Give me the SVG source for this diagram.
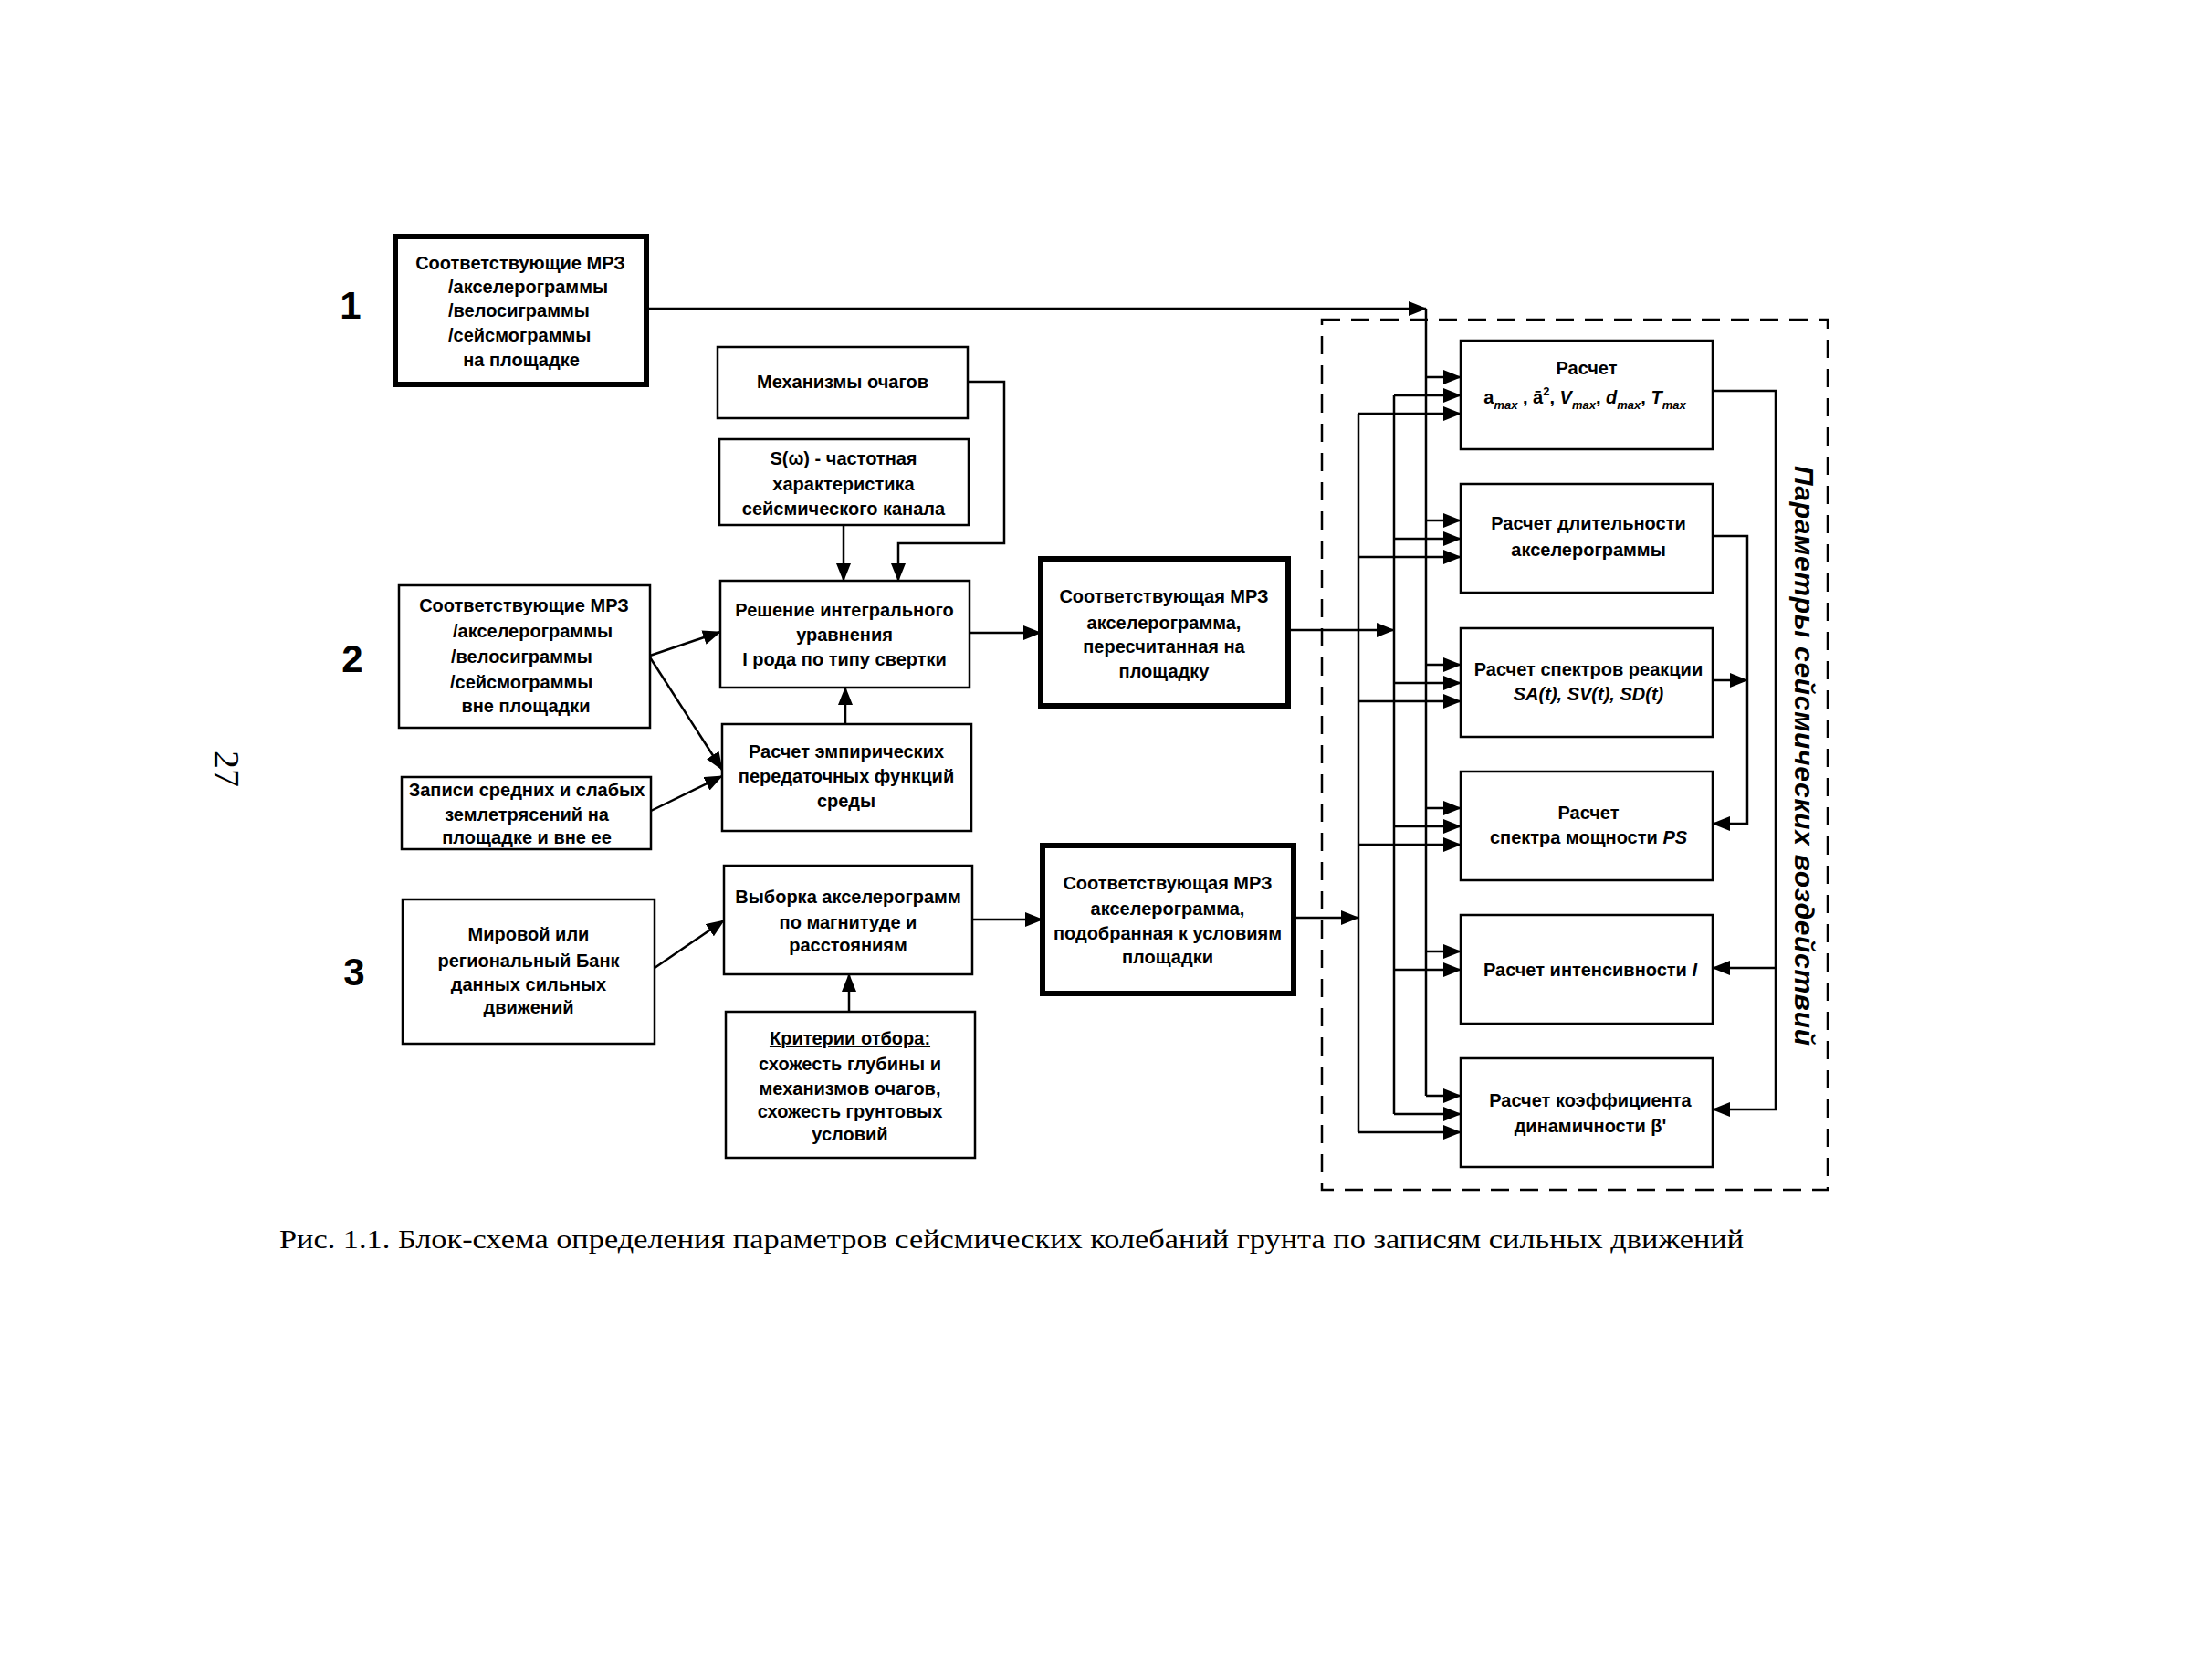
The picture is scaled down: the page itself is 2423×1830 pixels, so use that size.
<svg xmlns="http://www.w3.org/2000/svg" width="2423" height="1830" viewBox="0 0 2423 1830">
<style>
.b{fill:#fff;stroke:#000;stroke-width:2.5}
.bt{fill:#fff;stroke:#000;stroke-width:6}
.t{font-family:"Liberation Sans",Arial,sans-serif;font-weight:bold;font-size:20px;fill:#000}
.c{text-anchor:middle}
.it{font-style:italic}
.num{font-family:"Liberation Sans",Arial,sans-serif;font-weight:bold;font-size:42px;fill:#000;text-anchor:middle}
.ln{fill:none;stroke:#000;stroke-width:2.5}
.arr{marker-end:url(#ah)}
.sub{font-size:13px}
</style>
<defs>
<marker id="ah" markerUnits="userSpaceOnUse" markerWidth="20" markerHeight="16" refX="19" refY="8" orient="auto">
<path d="M0,0 L20,8 L0,16 Z" fill="#000"/>
</marker>
</defs>
<rect width="2423" height="1830" fill="#fff"/>

<text class="num" x="384" y="349">1</text>
<text class="num" x="386" y="736">2</text>
<text class="num" x="388" y="1079">3</text>

<g id="container">
<rect x="1448" y="350" width="554" height="953" fill="none" stroke="#000" stroke-width="2.5" stroke-dasharray="20 12"/>
<text class="t it" transform="translate(1966,510) rotate(90)" textLength="635" lengthAdjust="spacing" style="font-size:30px">Параметры сейсмических воздействий</text>
</g>

<g id="connectors">
<polyline class="ln arr" points="708,338 1562,338"/>
<polyline class="ln" points="1562,338 1562,1200"/>
<polyline class="ln" points="1527,433 1527,1220"/>
<polyline class="ln" points="1488,453 1488,1240"/>
<line class="ln arr" x1="1562" y1="413" x2="1600" y2="413"/>
<line class="ln arr" x1="1527" y1="433" x2="1600" y2="433"/>
<line class="ln arr" x1="1488" y1="453" x2="1600" y2="453"/>
<line class="ln arr" x1="1562" y1="570" x2="1600" y2="570"/>
<line class="ln arr" x1="1527" y1="590" x2="1600" y2="590"/>
<line class="ln arr" x1="1488" y1="610" x2="1600" y2="610"/>
<line class="ln arr" x1="1562" y1="728" x2="1600" y2="728"/>
<line class="ln arr" x1="1527" y1="748" x2="1600" y2="748"/>
<line class="ln arr" x1="1488" y1="768" x2="1600" y2="768"/>
<line class="ln arr" x1="1562" y1="885" x2="1600" y2="885"/>
<line class="ln arr" x1="1527" y1="905" x2="1600" y2="905"/>
<line class="ln arr" x1="1488" y1="925" x2="1600" y2="925"/>
<line class="ln arr" x1="1562" y1="1042" x2="1600" y2="1042"/>
<line class="ln arr" x1="1527" y1="1062" x2="1600" y2="1062"/>
<line class="ln arr" x1="1562" y1="1200" x2="1600" y2="1200"/>
<line class="ln arr" x1="1527" y1="1220" x2="1600" y2="1220"/>
<line class="ln arr" x1="1488" y1="1240" x2="1600" y2="1240"/>
<line class="ln arr" x1="1411" y1="690" x2="1527" y2="690"/>
<line class="ln arr" x1="1417" y1="1005" x2="1488" y2="1005"/>
<polyline class="ln arr" points="1876,428 1945,428 1945,1215 1876,1215"/>
<line class="ln arr" x1="1945" y1="1060" x2="1876" y2="1060"/>
<polyline class="ln arr" points="1876,587 1914,587 1914,902 1876,902"/>
<line class="ln arr" x1="1876" y1="745" x2="1914" y2="745"/>
<polyline class="ln arr" points="1060,418 1100,418 1100,595 984,595 984,636"/>
<line class="ln arr" x1="924" y1="575" x2="924" y2="636"/>
<line class="ln arr" x1="712" y1="718" x2="789" y2="692"/>
<line class="ln arr" x1="712" y1="720" x2="791" y2="843"/>
<line class="ln arr" x1="713" y1="888" x2="791" y2="850"/>
<line class="ln arr" x1="926" y1="793" x2="926" y2="753"/>
<line class="ln arr" x1="1062" y1="693" x2="1140" y2="693"/>
<line class="ln arr" x1="717" y1="1060" x2="793" y2="1008"/>
<line class="ln arr" x1="1065" y1="1007" x2="1142" y2="1007"/>
<line class="ln arr" x1="930" y1="1108" x2="930" y2="1067"/>
</g>

<g id="n-src1">
<rect class="bt" x="433" y="259" width="275" height="162"/>
<text class="t c" x="570" y="295">Соответствующие МРЗ</text>
<text class="t" x="491" y="321">/акселерограммы</text>
<text class="t" x="491" y="347">/велосиграммы</text>
<text class="t" x="491" y="374">/сейсмограммы</text>
<text class="t c" x="571" y="401">на площадке</text>
</g>

<g id="n-mech">
<rect class="b" x="786" y="380" width="274" height="78"/>
<text class="t c" x="923" y="425">Механизмы очагов</text>
</g>

<g id="n-s">
<rect class="b" x="788" y="481" width="273" height="94"/>
<text class="t c" x="924" y="509">S(ω) - частотная</text>
<text class="t c" x="924" y="537">характеристика</text>
<text class="t c" x="924" y="564">сейсмического канала</text>
</g>

<g id="n-src2">
<rect class="b" x="437" y="641" width="275" height="156"/>
<text class="t c" x="574" y="670">Соответствующие МРЗ</text>
<text class="t" x="496" y="698">/акселерограммы</text>
<text class="t" x="494" y="726">/велосиграммы</text>
<text class="t" x="493" y="754">/сейсмограммы</text>
<text class="t c" x="576" y="780">вне площадки</text>
</g>

<g id="n-solve">
<rect class="b" x="789" y="636" width="273" height="117"/>
<text class="t c" x="925" y="675">Решение интегрального</text>
<text class="t c" x="925" y="702">уравнения</text>
<text class="t c" x="925" y="729">I рода по типу свертки</text>
</g>

<g id="n-emp">
<rect class="b" x="791" y="793" width="273" height="117"/>
<text class="t c" x="927" y="830">Расчет эмпирических</text>
<text class="t c" x="927" y="857">передаточных функций</text>
<text class="t c" x="927" y="884">среды</text>
</g>

<g id="n-rec">
<rect class="b" x="440" y="851" width="273" height="79"/>
<text class="t c" x="577" y="872">Записи средних и слабых</text>
<text class="t c" x="577" y="899">землетрясений на</text>
<text class="t c" x="577" y="924">площадке и вне ее</text>
</g>

<g id="n-res2">
<rect class="bt" x="1140" y="612" width="271" height="161"/>
<text class="t c" x="1275" y="660">Соответствующая МРЗ</text>
<text class="t c" x="1275" y="689">акселерограмма,</text>
<text class="t c" x="1275" y="715">пересчитанная на</text>
<text class="t c" x="1275" y="742">площадку</text>
</g>

<g id="n-bank">
<rect class="b" x="441" y="985" width="276" height="158"/>
<text class="t c" x="579" y="1030">Мировой или</text>
<text class="t c" x="579" y="1059">региональный Банк</text>
<text class="t c" x="579" y="1085">данных сильных</text>
<text class="t c" x="579" y="1110">движений</text>
</g>

<g id="n-sel">
<rect class="b" x="793" y="948" width="272" height="119"/>
<text class="t c" x="929" y="989">Выборка акселерограмм</text>
<text class="t c" x="929" y="1017">по магнитуде и</text>
<text class="t c" x="929" y="1042">расстояниям</text>
</g>

<g id="n-crit">
<rect class="b" x="795" y="1108" width="273" height="160"/>
<text class="t c" x="931" y="1144" text-decoration="underline">Критерии отбора:</text>
<text class="t c" x="931" y="1172">схожесть глубины  и</text>
<text class="t c" x="931" y="1199">механизмов очагов,</text>
<text class="t c" x="931" y="1224">схожесть грунтовых</text>
<text class="t c" x="931" y="1249">условий</text>
</g>

<g id="n-res3">
<rect class="bt" x="1142" y="926" width="275" height="162"/>
<text class="t c" x="1279" y="974">Соответствующая МРЗ</text>
<text class="t c" x="1279" y="1002">акселерограмма,</text>
<text class="t c" x="1279" y="1029">подобранная к условиям</text>
<text class="t c" x="1279" y="1055">площадки</text>
</g>

<g id="n-r1">
<rect class="b" x="1600" y="373" width="276" height="119"/>
<text class="t c" x="1738" y="410">Расчет</text>
<text class="t c" x="1736" y="442">a<tspan class="sub it" dy="6">max</tspan><tspan dy="-6"> , ā</tspan><tspan class="sub" dy="-9">2</tspan><tspan dy="9">, </tspan><tspan class="it">V</tspan><tspan class="sub it" dy="6">max</tspan><tspan dy="-6">, </tspan><tspan class="it">d</tspan><tspan class="sub it" dy="6">max</tspan><tspan dy="-6">, </tspan><tspan class="it">T</tspan><tspan class="sub it" dy="6">max</tspan></text>
</g>

<g id="n-r2">
<rect class="b" x="1600" y="530" width="276" height="119"/>
<text class="t c" x="1740" y="580">Расчет длительности</text>
<text class="t c" x="1740" y="609">акселерограммы</text>
</g>

<g id="n-r3">
<rect class="b" x="1600" y="688" width="276" height="119"/>
<text class="t c" x="1740" y="740">Расчет спектров реакции</text>
<text class="t c it" x="1740" y="767">SA(t), SV(t), SD(t)</text>
</g>

<g id="n-r4">
<rect class="b" x="1600" y="845" width="276" height="119"/>
<text class="t c" x="1740" y="897">Расчет</text>
<text class="t c" x="1740" y="924">спектра мощности  <tspan class="it">PS</tspan></text>
</g>

<g id="n-r5">
<rect class="b" x="1600" y="1002" width="276" height="119"/>
<text class="t c" x="1742" y="1069">Расчет интенсивности  <tspan class="it">I</tspan></text>
</g>

<g id="n-r6">
<rect class="b" x="1600" y="1159" width="276" height="119"/>
<text class="t c" x="1742" y="1212">Расчет коэффициента</text>
<text class="t c" x="1742" y="1240">динамичности  β'</text>
</g>

<text font-family="Liberation Serif,'Times New Roman',serif" font-size="40" transform="translate(235,822) rotate(90)">27</text>
<text font-family="Liberation Serif,'Times New Roman',serif" font-size="29" x="306" y="1367" textLength="1604" lengthAdjust="spacingAndGlyphs">Рис. 1.1. Блок-схема определения параметров сейсмических колебаний грунта по записям сильных движений</text>
</svg>
